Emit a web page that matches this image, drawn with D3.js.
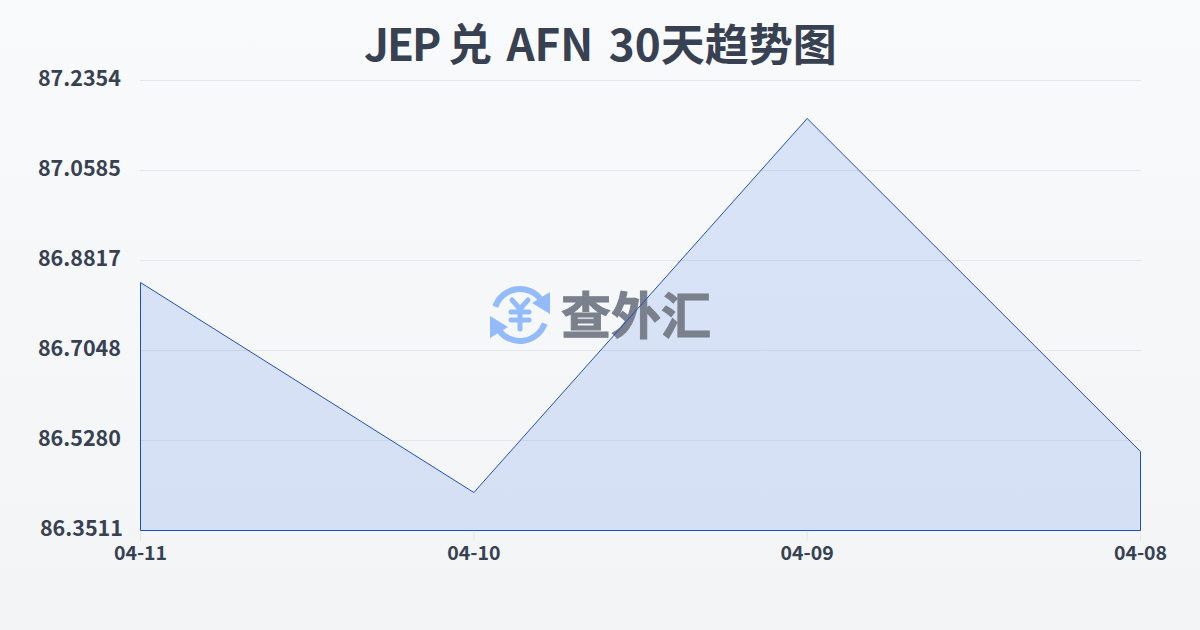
<!DOCTYPE html>
<html><head><meta charset="utf-8">
<script src="https://cdn.jsdelivr.net/npm/d3@7/dist/d3.min.js"></script>
<style>html,body{margin:0;padding:0;width:1200px;height:630px;overflow:hidden}svg{display:block}</style>
</head><body><svg id="c" width="1200" height="630"></svg>
<script>
const titleParts = ["JEP ","兑 ","AFN ","30天趋势图"];
const titleNudge = [0,-1,3,4];
const titleTrack = [-2,0,0,0];
const dates = ["04-11","04-10","04-09","04-08"];
const rates = [86.8384,86.4258,87.1607,86.5063];
const yTicks = [86.3511,86.5280,86.7048,86.8817,87.0585,87.2354];
const brand = "查外汇";
const font = '"Noto Sans CJK SC",sans-serif';

const svg = d3.select("#c");
const defs = svg.append("defs");
const bg = defs.append("linearGradient").attr("id","bg").attr("x1",0).attr("y1",0).attr("x2",0).attr("y2",1);
bg.append("stop").attr("offset",0).attr("stop-color","#f8fafc");
bg.append("stop").attr("offset",1).attr("stop-color","#f3f4f6");
svg.append("rect").attr("width",1200).attr("height",630).attr("fill","url(#bg)");

const x = d3.scalePoint().domain(dates).range([140.5,1140.5]);
const y = d3.scaleLinear().domain([yTicks[0],yTicks[yTicks.length-1]]).range([530.5,80.5]);

svg.append("text").attr("x",364).attr("y",61).attr("xml:space","preserve").style("white-space","pre")
  .attr("font-family",font).attr("font-weight",700).attr("font-size",44).attr("word-spacing",1.5).attr("fill","#374151")
  .selectAll("tspan").data(titleParts).join("tspan")
  .attr("dx",(d,i)=>titleNudge[i]).attr("letter-spacing",(d,i)=>titleTrack[i]).text(d=>d);

svg.append("g").selectAll("line").data(yTicks).join("line")
  .attr("x1",140).attr("x2",1141).attr("y1",d=>y(d)).attr("y2",d=>y(d))
  .attr("stroke","#e5e7eb").attr("stroke-width",1);
svg.append("g").selectAll("line").data(dates).join("line")
  .attr("x1",d=>x(d)).attr("x2",d=>x(d)).attr("y1",530).attr("y2",541)
  .attr("stroke","#e5e7eb").attr("stroke-width",1);

const area = d3.area().x(d=>x(d.d)).y0(y(yTicks[0])).y1(d=>y(d.v));
const pts = dates.map((d,i)=>({d,v:rates[i]}));
svg.append("path").datum(pts).attr("d",area).attr("fill","#2563eb").attr("fill-opacity",.14);

// watermark
const wm = svg.append("g");
const ic = wm.append("g").attr("transform","translate(520,315)").attr("fill","none").attr("stroke","#93bbfb").attr("stroke-linecap","round");
const arcGen = d3.arc().innerRadius(26).outerRadius(26);
ic.append("path").attr("stroke-width",6).attr("d",arcGen({startAngle:-1.25,endAngle:0.95}));
ic.append("path").attr("stroke-width",6).attr("d",arcGen({startAngle:1.9,endAngle:4.1}));
ic.append("path").attr("fill","#93bbfb").attr("stroke","none").attr("d",d3.line()([[12,-12],[30,-23],[30,-1]]));
ic.append("path").attr("fill","#93bbfb").attr("stroke","none").attr("d",d3.line()([[-12,12],[-30,1],[-30,23]]));
ic.append("path").attr("stroke-width",5).attr("d",d3.line()([[-8,-15],[0,-6],[8,-15]]));
ic.append("path").attr("stroke-width",5).attr("d",d3.line()([[-9,-3],[9,-3]]));
ic.append("path").attr("stroke-width",5).attr("d",d3.line()([[-9,5],[9,5]]));
ic.append("path").attr("stroke-width",5).attr("d",d3.line()([[0,-6],[0,14]]));
wm.append("text").attr("x",636).attr("y",334).attr("text-anchor","middle")
  .attr("font-family",font).attr("font-weight",700).attr("font-size",50).attr("fill","#7a808c")
  .attr("stroke","#7a808c").attr("stroke-width",1).text(brand);

svg.append("path").datum(pts).attr("d",area).attr("fill","none").attr("stroke","#1e4fc0").attr("stroke-width",1);

svg.append("g").selectAll("text").data(yTicks).join("text")
  .attr("x",(d,i)=>i===0?123:121).attr("y",d=>y(d)+5.5).attr("text-anchor","end")
  .attr("font-family",font).attr("font-weight",700).attr("font-size",21.5).attr("fill","#374151").text(d=>d.toFixed(4));
svg.append("g").selectAll("text").data(dates).join("text")
  .attr("x",d=>x(d)).attr("y",560).attr("text-anchor","middle")
  .attr("font-family",font).attr("font-weight",700).attr("font-size",19.5).attr("fill","#374151").text(d=>d);
</script></body></html>
